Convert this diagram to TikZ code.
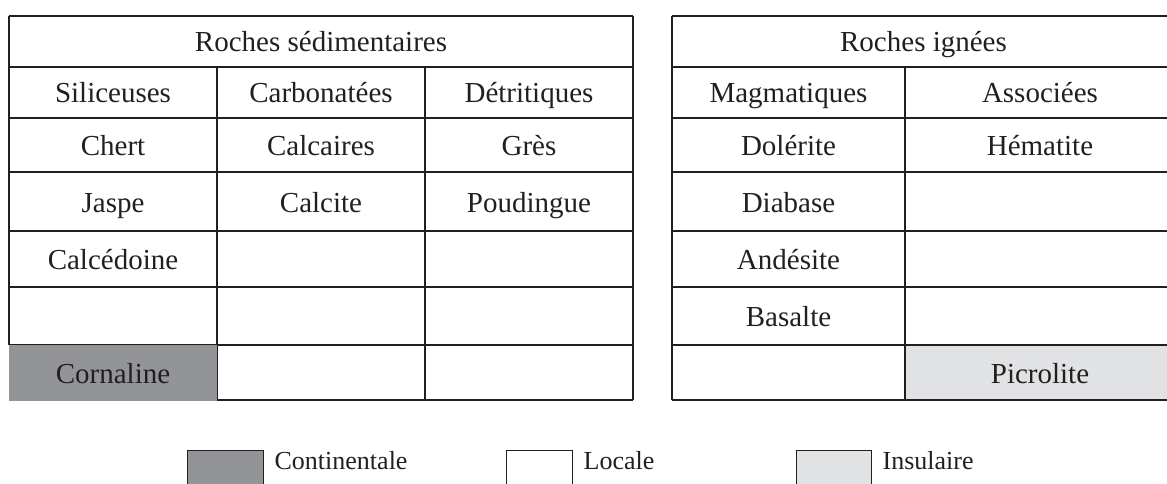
\documentclass[tikz,border=0pt]{standalone}
\usepackage{fontspec}
\setmainfont{Liberation Serif}
\definecolor{ink}{RGB}{35,31,32}
\definecolor{continental}{RGB}{147,148,152}
\definecolor{insular}{RGB}{225,226,228}
\tikzset{
  cell/.style={text=ink,font=\fontsize{29}{34}\selectfont,anchor=base,inner sep=0pt},
  legendtext/.style={text=ink,font=\fontsize{26}{30}\selectfont,anchor=base west,inner sep=0pt},
  swatch/.style={draw=ink,line width=1.3pt,minimum height=40pt,anchor=north west,inner sep=0pt}
}
\begin{document}
\begin{tikzpicture}[x=1pt,y=-1pt,line width=1.3pt]
\useasboundingbox (0,0) rectangle (1167,484);

% fond de la case insulaire
\fill[insular] (905,345) rectangle (1175,400);

% tableau de gauche
\foreach \y in {16,67,118,172,231,287,345} \draw[ink] (9,\y) -- (633,\y);
\draw[ink] (217,400) -- (633,400);
\draw[ink] (9,16) -- (9,345);
\draw[ink] (633,16) -- (633,400);
\foreach \x in {217,425} \draw[ink] (\x,67) -- (\x,400);
\fill[continental] (9,345) rectangle (217,400.7);

% tableau de droite
\foreach \y in {16,67,118,172,231,287,345,400} \draw[ink] (672,\y) -- (1175,\y);
\draw[ink] (672,16) -- (672,400);
\draw[ink] (905,67) -- (905,400);

% textes
\node[cell] (hdrSed) at (321,52) {Roches sédimentaires};
\node[cell] (sil) at (113,103) {Siliceuses};
\node[cell] (carb) at (321,103) {Carbonatées};
\node[cell] (detr) at (529,103) {Détritiques};
\node[cell] (chert) at (113,155.5) {Chert};
\node[cell] (calcaires) at (321,155.5) {Calcaires};
\node[cell] (gres) at (529,155.5) {Grès};
\node[cell] (jaspe) at (113,212) {Jaspe};
\node[cell] (calcite) at (321,212) {Calcite};
\node[cell] (poud) at (529,212) {Poudingue};
\node[cell] (calced) at (113,269.5) {Calcédoine};
\node[cell] (cornaline) at (113,383) {Cornaline};

\node[cell] (hdrIgn) at (923.5,52) {Roches ignées};
\node[cell] (magm) at (788.5,103) {Magmatiques};
\node[cell] (assoc) at (1040,103) {Associées};
\node[cell] (dolerite) at (788.5,155.5) {Dolérite};
\node[cell] (hematite) at (1040,155.5) {Hématite};
\node[cell] (diabase) at (788.5,212) {Diabase};
\node[cell] (andesite) at (788.5,269.5) {Andésite};
\node[cell] (basalte) at (788.5,326.5) {Basalte};
\node[cell] (picrolite) at (1040,383) {Picrolite};

% légende
\node[swatch,fill=continental,minimum width=76pt] (swCont) at (187,450) {};
\node[legendtext] (lbCont) at (274,469) {Continentale};
\node[swatch,fill=white,minimum width=66pt] (swLoc) at (506,450) {};
\node[legendtext] (lbLoc) at (583,469) {Locale};
\node[swatch,fill=insular,minimum width=75pt] (swIns) at (796,450) {};
\node[legendtext] (lbIns) at (882,469) {Insulaire};
\end{tikzpicture}
\end{document}
